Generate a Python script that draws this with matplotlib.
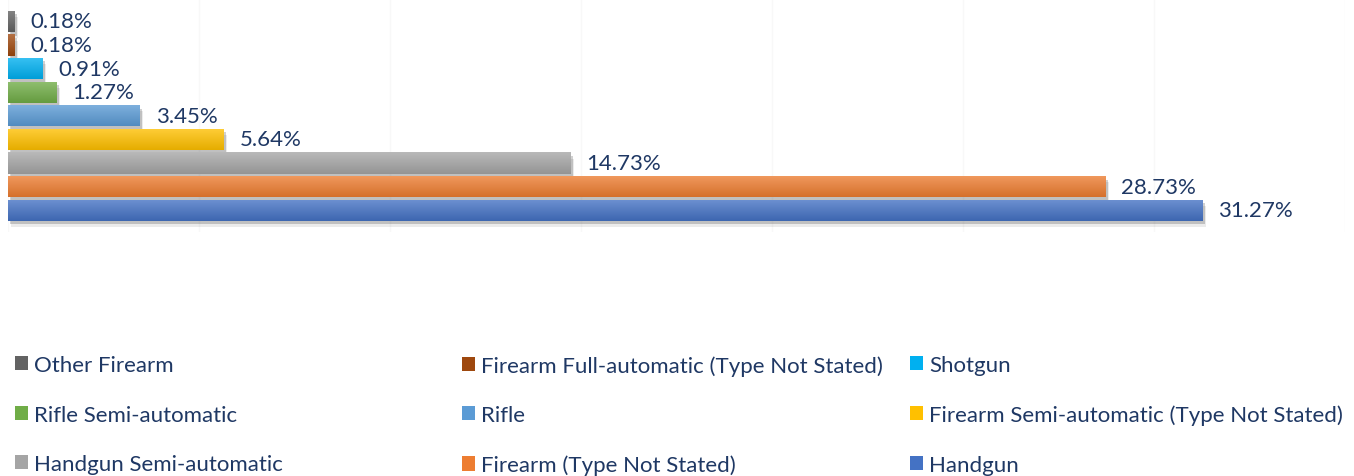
import matplotlib
matplotlib.use('Agg')
import matplotlib.pyplot as plt
import matplotlib.patheffects as pe
from matplotlib.patches import Patch
from matplotlib.colors import to_rgb
import numpy as np

# series, listed top bar first (same order as the legend, row by row)
categories = ['Other Firearm', 'Firearm Full-automatic (Type Not Stated)', 'Shotgun',
              'Rifle Semi-automatic', 'Rifle', 'Firearm Semi-automatic (Type Not Stated)',
              'Handgun Semi-automatic', 'Firearm (Type Not Stated)', 'Handgun']
values = [0.18, 0.18, 0.91, 1.27, 3.45, 5.64, 14.73, 28.73, 31.27]
colors = ['#636363', '#9E480E', '#00B0F0', '#70AD47', '#5B9BD5', '#FFC000',
          '#A5A5A5', '#ED7D31', '#4472C4']

text_color = '#1F3864'
plt.rcParams['font.family'] = ['Lato', 'DejaVu Sans']
fs = 16

W, H = 1354, 477
fig = plt.figure(figsize=(W / 100, H / 100), dpi=100)
ax = fig.add_axes([8 / W, 1 - 233 / H, 1337 / W, 233 / H])

bar_h = 0.9
for i, (name, v, c) in enumerate(zip(categories, values, colors)):
    bars = ax.barh(i, v, height=bar_h, color=c, label=name, zorder=2,
                   path_effects=[pe.SimplePatchShadow(offset=(1.5, -2.5), shadow_rgbFace='k', alpha=0.18),
                                 pe.SimplePatchShadow(offset=(2.5, -4.5), shadow_rgbFace='k', alpha=0.08),
                                 pe.Normal()])
    # vertical gradient: light on top, a bit darker at the bottom
    base = np.array(to_rgb(c))
    top = base + (1 - base) * 0.22
    bot = base * 0.9
    t = np.linspace(0, 1, 32)[:, None]
    grad = (top * (1 - t) + bot * t)[:, None, :]
    im = ax.imshow(grad, extent=(0, v, i + bar_h / 2, i - bar_h / 2), aspect='auto',
                   interpolation='bilinear', zorder=2)
    im.set_clip_path(bars.patches[0])
    ax.annotate(f'{v:.2f}%', xy=(v, i), xytext=(11.5, 0), textcoords='offset points',
                va='center', ha='left', fontsize=fs, color=text_color)

ax.set_xlim(0, 35)
ax.set_ylim(8.92, -0.95)
ax.set_xticks(np.arange(0, 36, 5))
ax.set_yticks([])
ax.tick_params(axis='x', length=0, labelbottom=False)
ax.grid(axis='x', color='#F8F8F8', linewidth=1, zorder=0)
ax.set_axisbelow(True)
for s in ax.spines.values():
    s.set_visible(False)

# legend: three columns, filled row by row
col_x = [15, 462, 910]
for k in range(3):
    idx = [k + 3 * r for r in range(3)]
    hs = [Patch(facecolor=colors[j], edgecolor='none') for j in idx]
    labs = [categories[j] for j in idx]
    leg = fig.legend(hs, labs, loc='upper left', bbox_to_anchor=(col_x[k] / W, 1 - 356 / H),
                     frameon=False, fontsize=fs, handlelength=0.6, handleheight=0.6,
                     handletextpad=0.25, labelspacing=1.33, borderaxespad=0, borderpad=0)
    for txt in leg.get_texts():
        txt.set_color(text_color)

fig.savefig('out.png', dpi=100)
